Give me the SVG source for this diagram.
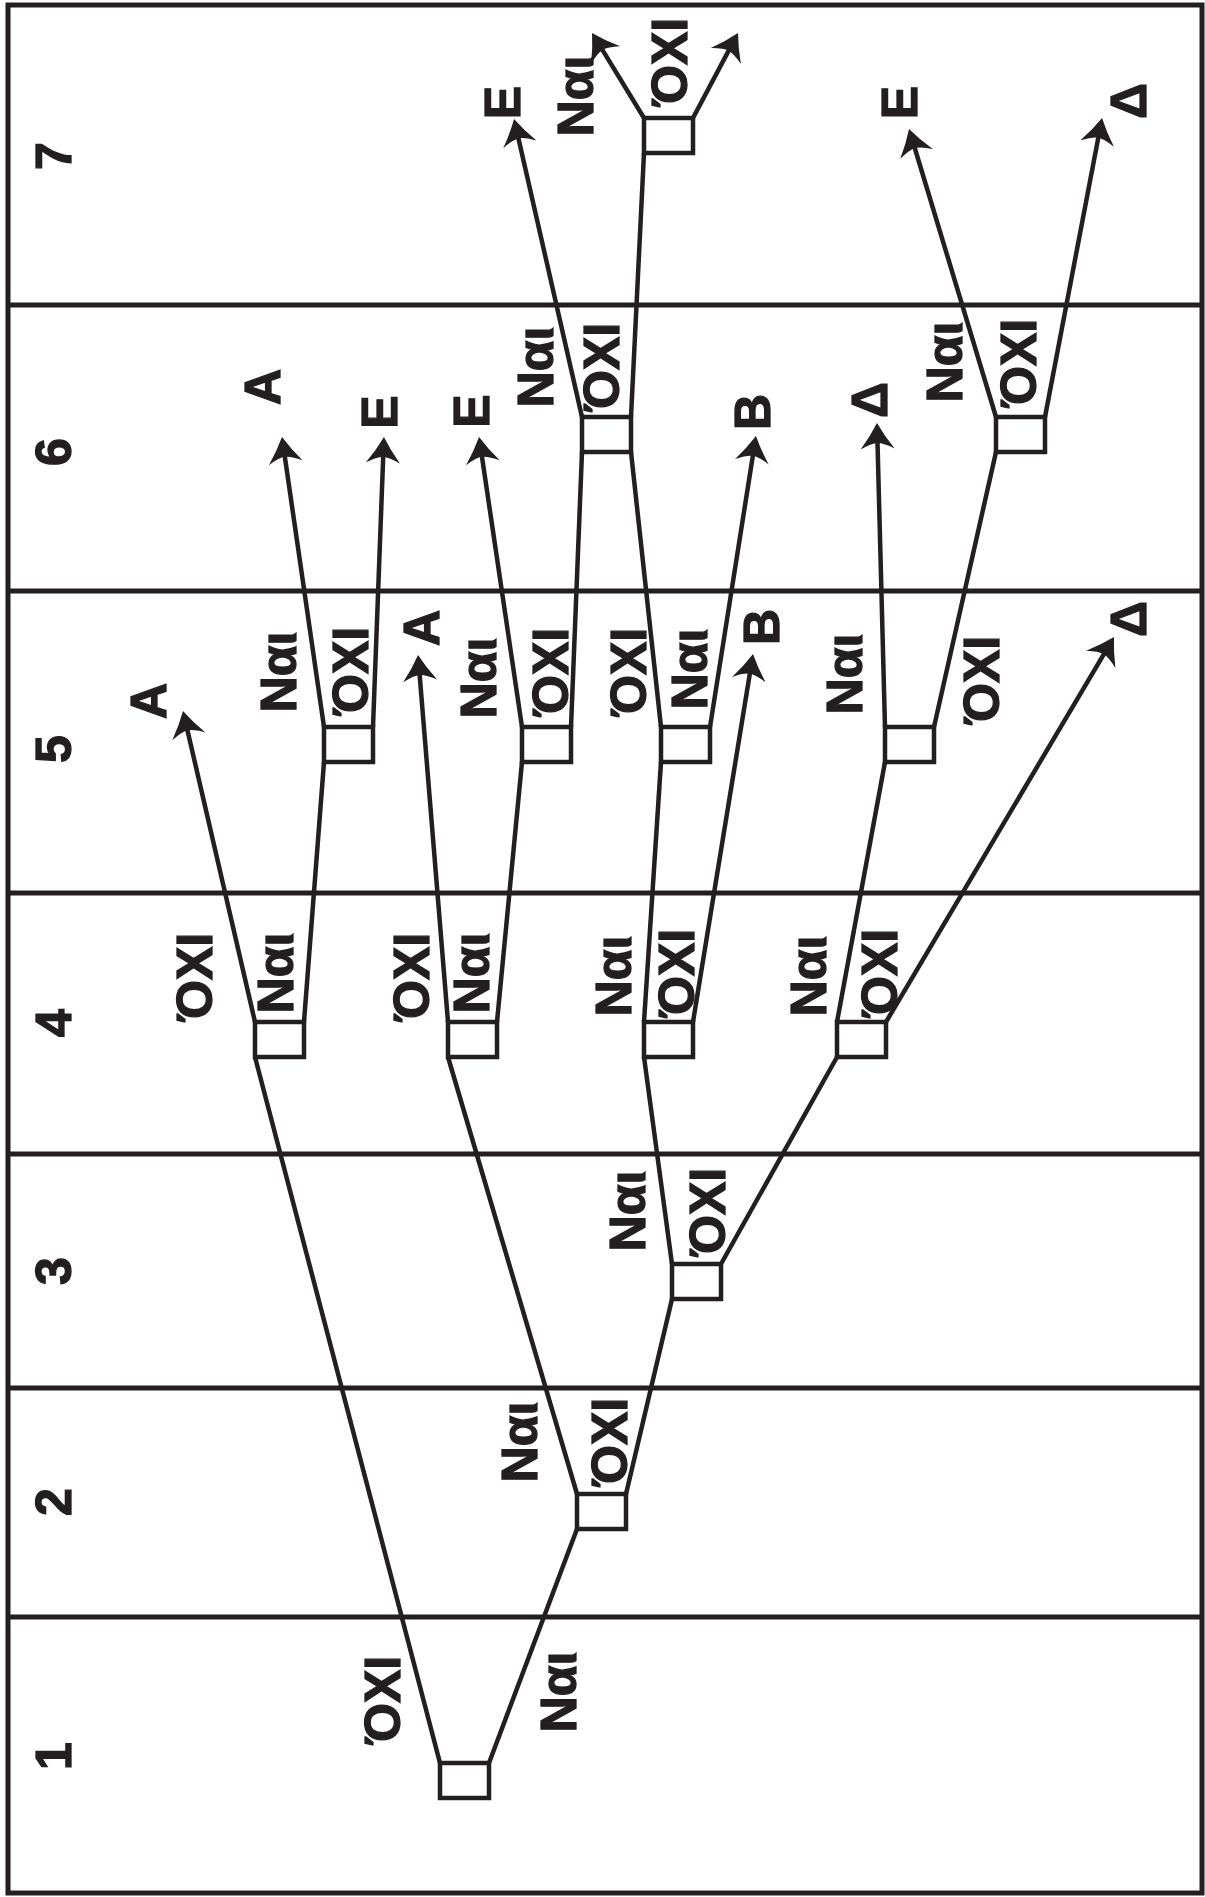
<svg xmlns="http://www.w3.org/2000/svg" width="1205" height="1897" viewBox="0 0 1205 1897">
<style>
.frame{fill:none;stroke:#231f20;stroke-width:5}
.div{stroke:#231f20;stroke-width:5}
.box{fill:#fff;stroke:#231f20;stroke-width:4.5}
.c{fill:none;stroke:#231f20;stroke-width:4.5}
.a{fill:none;stroke:#231f20;stroke-width:4.5;marker-end:url(#ah)}
text{font-family:"Liberation Sans",Arial,sans-serif;font-weight:bold;font-size:50px;fill:#231f20;stroke:#231f20;stroke-width:1.3;text-anchor:middle}
</style>
<defs>
<marker id="ah" markerUnits="userSpaceOnUse" orient="auto" refX="0" refY="0" markerWidth="50" markerHeight="50" viewBox="-25 -25 50 50" overflow="visible">
<path d="M12,0 Q-1,-7 -14,-17 Q-8,-6 -8,0 Q-8,6 -14,17 Q-1,7 12,0 Z" fill="#231f20"/>
</marker>
</defs>
<rect x="0" y="0" width="1205" height="1897" fill="#fff"/>
<g id="grid">
<rect class="frame" x="8" y="5" width="1194" height="1888"/>
<line class="div" x1="8" y1="305" x2="1202" y2="305"/>
<line class="div" x1="8" y1="591" x2="1202" y2="591"/>
<line class="div" x1="8" y1="893" x2="1202" y2="893"/>
<line class="div" x1="8" y1="1154" x2="1202" y2="1154"/>
<line class="div" x1="8" y1="1388" x2="1202" y2="1388"/>
<line class="div" x1="8" y1="1617" x2="1202" y2="1617"/>
</g>
<g id="row-numbers">
<text transform="translate(71,156) rotate(-90)">7</text>
<text transform="translate(71,452) rotate(-90)">6</text>
<text transform="translate(71,749) rotate(-90)">5</text>
<text transform="translate(71,1023) rotate(-90)">4</text>
<text transform="translate(71,1271) rotate(-90)">3</text>
<text transform="translate(71,1502) rotate(-90)">2</text>
<text transform="translate(71,1756) rotate(-90)">1</text>
</g>
<g id="connectors">
<path class="c" d="M440,1763 L255,1057"/>
<path class="c" d="M489,1763 L577,1529"/>
<path class="c" d="M577,1494 L448,1057"/>
<path class="c" d="M626,1494 L672,1299"/>
<path class="c" d="M672,1264 L644,1057"/>
<path class="c" d="M721,1264 L837,1057"/>
<path class="a" d="M255,1022 L185.7,722.7"/>
<path class="c" d="M304,1022 L324,762"/>
<path class="a" d="M448,1022 L419,667"/>
<path class="c" d="M497,1022 L522,762"/>
<path class="c" d="M644,1022 L661,762"/>
<path class="a" d="M693,1022 L751.1,665.8"/>
<path class="c" d="M837,1022 L885,762"/>
<path class="a" d="M886,1022 L1107.9,647.3"/>
<path class="a" d="M324,727 L283.7,448.9"/>
<path class="a" d="M373,727 L383.5,449"/>
<path class="a" d="M522,727 L480.8,448.9"/>
<path class="c" d="M571,727 L582,452"/>
<path class="c" d="M661,727 L631,452"/>
<path class="a" d="M710,727 L754.1,447.9"/>
<path class="a" d="M885,727 L877.3,435"/>
<path class="c" d="M934,727 L996,452"/>
<path class="a" d="M582,417 L516.7,130.7"/>
<path class="c" d="M631,417 L644,153"/>
<path class="a" d="M996,417 L912.5,140.5"/>
<path class="a" d="M1045,417 L1099.8,129.8"/>
<path class="a" d="M644,118 L598.3,43.2"/>
<path class="a" d="M693,118 L732.4,43.6"/>
</g>
<g id="branch-labels">
<text transform="translate(400,1700) rotate(-90)">ΌΧΙ</text>
<text transform="translate(576,1692) rotate(-90)">Ναι</text>
<text transform="translate(537,1442) rotate(-90)">Ναι</text>
<text transform="translate(627,1442) rotate(-90)">ΌΧΙ</text>
<text transform="translate(645,1211) rotate(-90)">Ναι</text>
<text transform="translate(725,1212) rotate(-90)">ΌΧΙ</text>
<text transform="translate(212,977) rotate(-90)">ΌΧΙ</text>
<text transform="translate(293,973) rotate(-90)">Ναι</text>
<text transform="translate(429,977) rotate(-90)">ΌΧΙ</text>
<text transform="translate(489,973) rotate(-90)">Ναι</text>
<text transform="translate(631,976) rotate(-90)">Ναι</text>
<text transform="translate(694,973) rotate(-90)">ΌΧΙ</text>
<text transform="translate(826,976) rotate(-90)">Ναι</text>
<text transform="translate(897,973) rotate(-90)">ΌΧΙ</text>
<text transform="translate(296,672) rotate(-90)">Ναι</text>
<text transform="translate(368,671) rotate(-90)">ΌΧΙ</text>
<text transform="translate(496,678) rotate(-90)">Ναι</text>
<text transform="translate(568,672) rotate(-90)">ΌΧΙ</text>
<text transform="translate(646,672) rotate(-90)">ΌΧΙ</text>
<text transform="translate(707,669) rotate(-90)">Ναι</text>
<text transform="translate(862,674) rotate(-90)">Ναι</text>
<text transform="translate(999,680) rotate(-90)">ΌΧΙ</text>
<text transform="translate(553,367) rotate(-90)">Ναι</text>
<text transform="translate(619,367) rotate(-90)">ΌΧΙ</text>
<text transform="translate(962,362) rotate(-90)">Ναι</text>
<text transform="translate(1036,363) rotate(-90)">ΌΧΙ</text>
<text transform="translate(593,96) rotate(-90)">Ναι</text>
<text transform="translate(687,62) rotate(-90)">ΌΧΙ</text>
</g>
<g id="n1"><rect class="box" x="440" y="1763" width="49" height="35"/></g>
<g id="n2"><rect class="box" x="577" y="1494" width="49" height="35"/></g>
<g id="n3"><rect class="box" x="672" y="1264" width="49" height="35"/></g>
<g id="n4a"><rect class="box" x="255" y="1022" width="49" height="35"/></g>
<g id="n4b"><rect class="box" x="448" y="1022" width="49" height="35"/></g>
<g id="n4c"><rect class="box" x="644" y="1022" width="49" height="35"/></g>
<g id="n4d"><rect class="box" x="837" y="1022" width="49" height="35"/></g>
<g id="n5a"><rect class="box" x="324" y="727" width="49" height="35"/></g>
<g id="n5b"><rect class="box" x="522" y="727" width="49" height="35"/></g>
<g id="n5c"><rect class="box" x="661" y="727" width="49" height="35"/></g>
<g id="n5d"><rect class="box" x="885" y="727" width="49" height="35"/></g>
<g id="n6a"><rect class="box" x="582" y="417" width="49" height="35"/></g>
<g id="n6b"><rect class="box" x="996" y="417" width="49" height="35"/></g>
<g id="n7"><rect class="box" x="644" y="118" width="49" height="35"/></g>
<g id="t5-A1"><text transform="translate(166,701) rotate(-90)">A</text></g>
<g id="t5-A2"><text transform="translate(439,628) rotate(-90)">A</text></g>
<g id="t5-B"><text transform="translate(779,627) rotate(-90)">B</text></g>
<g id="t5-D"><text transform="translate(1146,619) rotate(-90)">Δ</text></g>
<g id="t6-A"><text transform="translate(280,387) rotate(-90)">A</text></g>
<g id="t6-E1"><text transform="translate(396.5,412) rotate(-90)">E</text></g>
<g id="t6-E2"><text transform="translate(489,411) rotate(-90)">E</text></g>
<g id="t6-B"><text transform="translate(770,412) rotate(-90)">B</text></g>
<g id="t6-D"><text transform="translate(887,400) rotate(-90)">Δ</text></g>
<g id="t7-E1"><text transform="translate(520,102.5) rotate(-90)">E</text></g>
<g id="t7-E2"><text transform="translate(917,102.5) rotate(-90)">E</text></g>
<g id="t7-D"><text transform="translate(1146,101) rotate(-90)">Δ</text></g>
</svg>
